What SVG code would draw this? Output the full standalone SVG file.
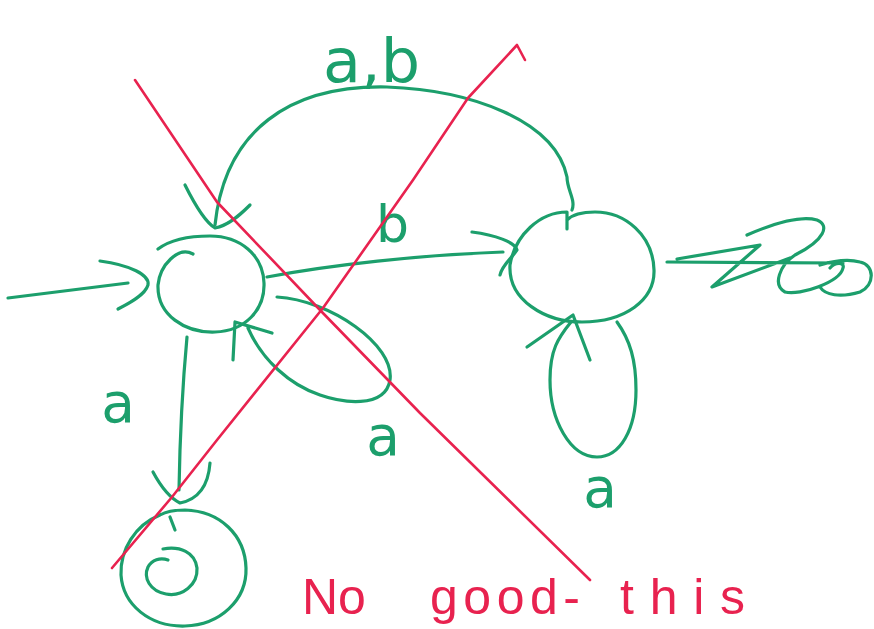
<svg xmlns="http://www.w3.org/2000/svg" width="874" height="629" viewBox="0 0 874 629">
  <style>
    .g { fill: none; stroke: #1c9f6c; stroke-width: 3.2; stroke-linecap: round; stroke-linejoin: round; }
    .r { fill: none; stroke: #e8224f; stroke-width: 2.6; stroke-linecap: round; stroke-linejoin: round; }
    .lbl { fill: #1c9f6c; font-family: "DejaVu Sans", sans-serif; }
    .note { fill: #e8224f; font-family: "Liberation Sans", sans-serif; }
  </style>
  <rect width="874" height="629" fill="#ffffff"/>

  <g id="state-start">
    <path class="g" d="M193,254 C178,246 160,265 158,285 C157,315 185,333 215,332 C245,331 265,310 264,283 C263,255 240,236 210,236 C190,236 170,240 158,249"/>
  </g>

  <g id="state-right">
    <path class="g" d="M567,229 L567,212 C540,212 515,235 510,265 C508,300 545,322 582,322 C625,322 655,300 654,270 C653,235 625,212 595,212 C580,212 572,215 567,220"/>
    <path class="g" d="M667,262 L843,263 M677,259 L760,245 L712,287 L790,258 M747,235 C770,225 800,215 817,220 C830,225 825,240 795,255 C780,265 772,285 785,292 C800,296 840,282 843,268 C845,262 835,262 830,268 M820,287 C825,295 840,298 860,292 C875,285 875,265 860,262 C845,258 830,262 820,265"/>
  </g>

  <g id="state-bottom">
    <path class="g" d="M160,515 C135,525 120,550 121,575 C123,605 150,627 185,626 C220,625 247,600 246,568 C245,535 220,511 185,510 C175,510 165,512 160,515"/>
    <path class="g" d="M163,549 C180,546 195,552 197,568 C198,585 182,597 166,594 C150,591 143,578 148,567 C152,560 160,557 168,560"/>
    <path class="g" d="M170,517 L175,530"/>
  </g>

  <g id="connectors">
    <path class="g" d="M8,298 L128,283"/>
    <path class="g" d="M100,261 C130,265 150,275 148,285 C145,295 130,303 118,309"/>
    <path class="g" d="M267,277 C330,265 420,255 503,252"/>
    <path class="g" d="M472,232 C495,235 515,242 517,250 C512,258 502,265 500,275"/>
    <path class="g" d="M572,210 C576,200 567,190 567,177 C555,120 470,90 387,87 C290,85 225,130 215,225"/>
    <path class="g" d="M185,185 C195,205 205,222 215,228 C228,226 240,215 250,205"/>
    <path class="g" d="M277,297 C330,300 395,345 390,380 C385,410 340,402 320,395 C290,385 262,360 248,328"/>
    <path class="g" d="M272,333 L235,322 L233,360"/>
    <path class="g" d="M187,337 C183,380 180,430 179,490"/>
    <path class="g" d="M153,472 C160,485 168,497 180,503 C195,500 208,490 210,463"/>
    <path class="g" d="M617,322 C630,340 636,360 636,390 C636,430 620,457 597,457 C570,457 550,420 550,380 C550,350 558,338 571,322"/>
    <path class="g" d="M527,347 L573,315 L590,360"/>
  </g>

  <g id="labels">
    <text class="lbl" x="323" y="82" font-size="60" textLength="97" lengthAdjust="spacingAndGlyphs">a,b</text>
    <text class="lbl" x="376" y="242" font-size="52">b</text>
    <text class="lbl" x="118" y="422" font-size="55" text-anchor="middle">a</text>
    <text class="lbl" x="383" y="455" font-size="55" text-anchor="middle">a</text>
    <text class="lbl" x="600" y="507" font-size="55" text-anchor="middle">a</text>
  </g>

  <g id="strike">
    <path class="r" d="M135,80 L217,202 L320,310 L420,413 L590,580"/>
    <path class="r" d="M112,568 L172,497 L217,440 L323,308 L413,180 L468,98 L517,45 L525,60"/>
    <text class="note" y="614" font-size="50"><tspan x="302">No</tspan> <tspan x="430" textLength="150" lengthAdjust="spacing">good-</tspan> <tspan x="620" textLength="125" lengthAdjust="spacing">this</tspan></text>
  </g>
</svg>
